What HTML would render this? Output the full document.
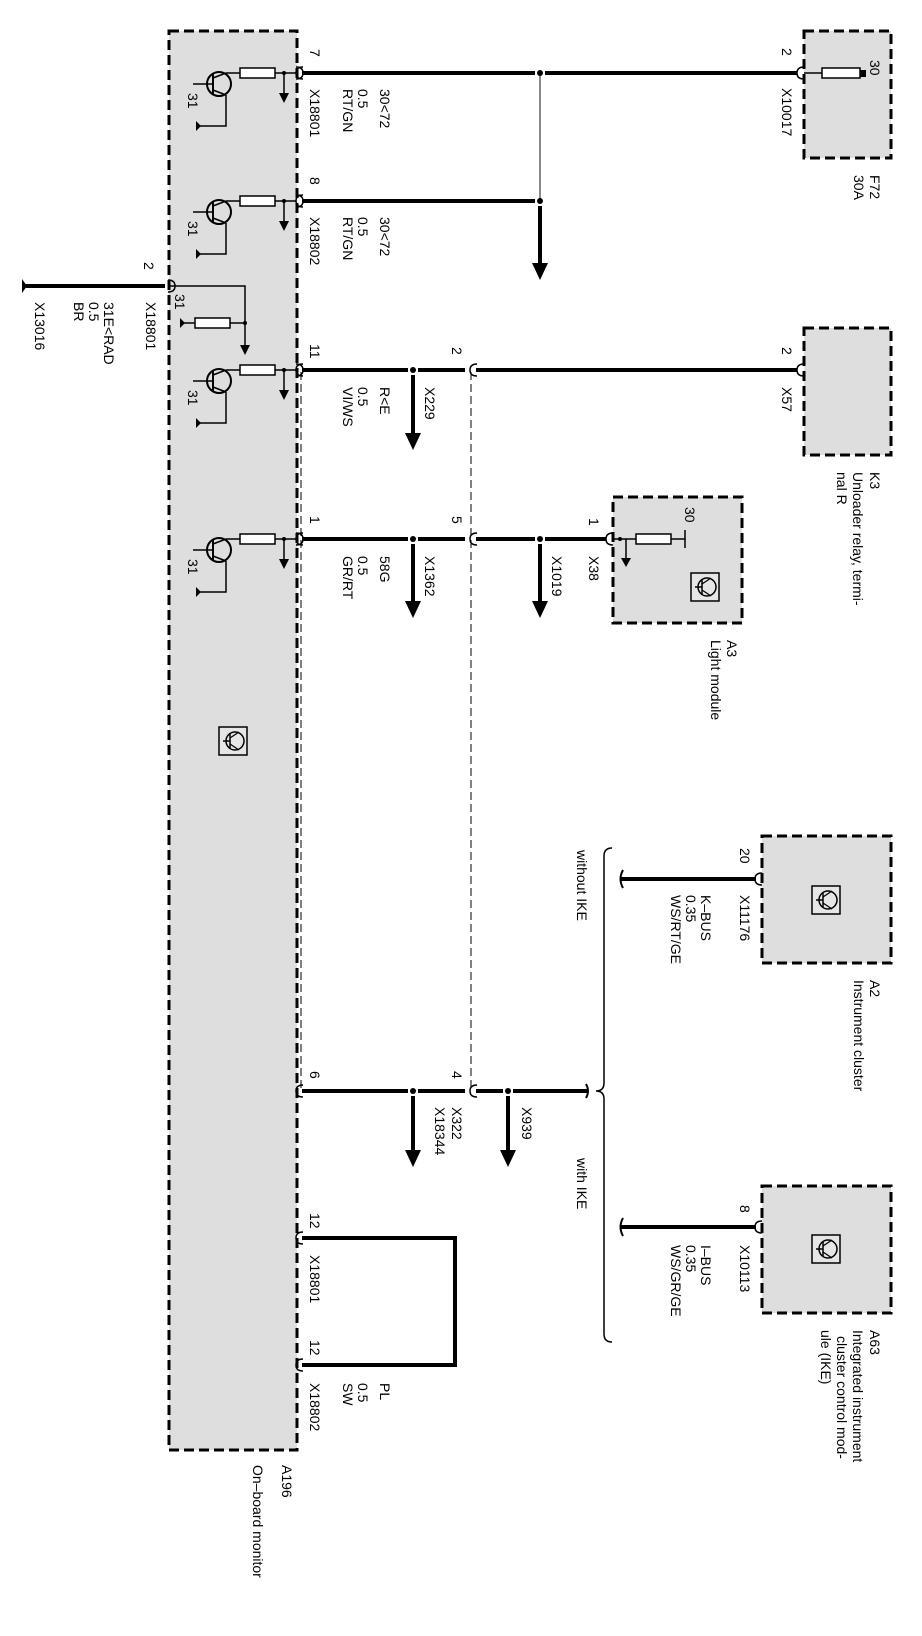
<!DOCTYPE html>
<html><head><meta charset="utf-8"><style>
html,body{margin:0;padding:0;background:#fff}
svg{display:block}
text{font-family:"Liberation Sans",Arial,sans-serif;font-size:14px;fill:#000}
</style></head><body>
<svg width="922" height="1636" viewBox="0 0 922 1636" xmlns="http://www.w3.org/2000/svg">
<defs>
<g id="tr">
  <circle cx="219" cy="11" r="12" fill="none" stroke="#000" stroke-width="2"/>
  <line x1="193" y1="11" x2="213" y2="11" stroke="#000" stroke-width="1.5"/>
  <line x1="213" y1="1" x2="213" y2="21" stroke="#000" stroke-width="2"/>
  <line x1="213" y1="5" x2="226" y2="0" stroke="#000" stroke-width="1.5"/>
  <line x1="213" y1="17" x2="226" y2="22" stroke="#000" stroke-width="1.5"/>
  <path d="M226 0 H240" stroke="#000" stroke-width="1.5"/>
  <rect x="240" y="-5" width="35" height="10" fill="#fff" stroke="#000" stroke-width="1.5"/>
  <path d="M275 0 H296" stroke="#000" stroke-width="1.5"/>
  <circle cx="284" cy="0" r="2" fill="#000"/>
  <path d="M284 0 V22" stroke="#000" stroke-width="1.5"/>
  <path d="M279 20 L289 20 L284 30 Z" fill="#000"/>
  <path d="M226 22 V53 H199" fill="none" stroke="#000" stroke-width="1.5"/>
  <path d="M196 48 L196 58 L201 53 Z" fill="#000"/>
  <text transform="translate(188,20) rotate(90)">31</text>
  <path d="M296 -6 Q303 -6 303 0 Q303 6 296 6" fill="none" stroke="#000" stroke-width="1.5"/>
</g>
<g id="ic">
  <rect x="-14" y="-14" width="28" height="28" fill="#e6e6e6" stroke="#000" stroke-width="1.5"/>
  <circle cx="2" cy="0" r="9" fill="none" stroke="#000" stroke-width="1.5"/>
  <line x1="-10" y1="0" x2="-3" y2="0" stroke="#000" stroke-width="1.5"/>
  <line x1="-3" y1="-7" x2="-3" y2="7" stroke="#000" stroke-width="1.5"/>
  <line x1="-3" y1="-3" x2="6" y2="-9" stroke="#000" stroke-width="1.2"/>
  <line x1="-3" y1="3" x2="6" y2="9" stroke="#000" stroke-width="1.2"/>
</g>
<g id="conn">
  <path d="M0 -6 Q-7 -6 -7 0 Q-7 6 0 6" fill="none" stroke="#000" stroke-width="1.5"/>
</g>
</defs>

<rect x="169" y="31" width="128" height="1419" fill="#dedede" stroke="#000" stroke-width="3" stroke-dasharray="10,5"/>
<path d="M301 372 V1089" stroke="#000" stroke-width="1" stroke-dasharray="8,4"/>
<path d="M471 372 V1089" stroke="#000" stroke-width="1" stroke-dasharray="8,4"/>

<rect x="804" y="31" width="87" height="127" fill="#dedede" stroke="#000" stroke-width="3" stroke-dasharray="10,5"/>
<rect x="804" y="328" width="87" height="127" fill="#dedede" stroke="#000" stroke-width="3" stroke-dasharray="10,5"/>
<rect x="613" y="497" width="129" height="126" fill="#dedede" stroke="#000" stroke-width="3" stroke-dasharray="10,5"/>
<rect x="762" y="836" width="129" height="127" fill="#dedede" stroke="#000" stroke-width="3" stroke-dasharray="10,5"/>
<rect x="762" y="1186" width="129" height="127" fill="#dedede" stroke="#000" stroke-width="3" stroke-dasharray="10,5"/>

<use href="#tr" transform="translate(0,73)"/>
<use href="#tr" transform="translate(0,201)"/>
<use href="#tr" transform="translate(0,370)"/>
<use href="#tr" transform="translate(0,539)"/>

<path d="M170 286 H245 V345" fill="none" stroke="#000" stroke-width="1.5"/>
<path d="M240 345 L250 345 L245 355 Z" fill="#000"/>
<path d="M184 323 H245" stroke="#000" stroke-width="1.5"/>
<rect x="195" y="318" width="35" height="10" fill="#fff" stroke="#000" stroke-width="1.5"/>
<path d="M180 318 L180 328 L185 323 Z" fill="#000"/>
<circle cx="245" cy="323" r="2" fill="#000"/>
<text transform="translate(175,294) rotate(90)">31</text>
<path d="M165 286 H26" stroke="#000" stroke-width="4"/>
<path d="M22 279 L22 293 L27 286 Z" fill="#000"/>
<use href="#conn" transform="translate(168,286) scale(-1,1)"/>

<use href="#ic" transform="translate(233,741)"/>

<path d="M302 73 H535 M545 73 H797" stroke="#000" stroke-width="4"/>
<circle cx="540" cy="73" r="3" fill="#000"/>
<path d="M540 76 V201" stroke="#888" stroke-width="2"/>
<use href="#conn" transform="translate(804,73)"/>
<path d="M804 73 H865" stroke="#000" stroke-width="1.5"/>
<rect x="822" y="68" width="38" height="10" fill="#fff" stroke="#000" stroke-width="1.5"/>
<rect x="860" y="70" width="6" height="7" fill="#000"/>

<path d="M302 201 H535" stroke="#000" stroke-width="4"/>
<circle cx="540" cy="201" r="3" fill="#000"/>
<path d="M540 206 V265" stroke="#000" stroke-width="4"/>
<path d="M532 263 L548 263 L540 280 Z" fill="#000"/>

<path d="M302 370 H408 M418 370 H465 M476 370 H797" stroke="#000" stroke-width="4"/>
<circle cx="413" cy="370" r="3" fill="#000"/>
<path d="M413 375 V435" stroke="#000" stroke-width="4"/>
<path d="M405 433 L421 433 L413 450 Z" fill="#000"/>
<use href="#conn" transform="translate(477,370)"/>
<use href="#conn" transform="translate(804,370)"/>

<path d="M302 539 H408 M418 539 H465 M476 539 H535 M545 539 H606" stroke="#000" stroke-width="4"/>
<circle cx="413" cy="539" r="3" fill="#000"/>
<path d="M413 544 V603" stroke="#000" stroke-width="4"/>
<path d="M405 601 L421 601 L413 618 Z" fill="#000"/>
<circle cx="540" cy="539" r="3" fill="#000"/>
<path d="M540 544 V603" stroke="#000" stroke-width="4"/>
<path d="M532 601 L548 601 L540 618 Z" fill="#000"/>
<use href="#conn" transform="translate(477,539)"/>
<use href="#conn" transform="translate(613,539)"/>
<path d="M613 539 H685" stroke="#000" stroke-width="1.5"/>
<rect x="636" y="534" width="35" height="10" fill="#fff" stroke="#000" stroke-width="1.5"/>
<path d="M685 530 V548" stroke="#000" stroke-width="1.5"/>
<circle cx="620" cy="539" r="2" fill="#000"/>
<path d="M626 539 V560" stroke="#000" stroke-width="1.5"/>
<path d="M621 558 L631 558 L626 567 Z" fill="#000"/>
<use href="#ic" transform="translate(705,587)"/>

<path d="M302 1091 H408 M418 1091 H465 M476 1091 H503 M513 1091 H588" stroke="#000" stroke-width="4"/>
<circle cx="413" cy="1091" r="3" fill="#000"/>
<path d="M413 1096 V1152" stroke="#000" stroke-width="4"/>
<path d="M405 1150 L421 1150 L413 1167 Z" fill="#000"/>
<circle cx="508" cy="1091" r="3" fill="#000"/>
<path d="M508 1096 V1152" stroke="#000" stroke-width="4"/>
<path d="M500 1150 L516 1150 L508 1167 Z" fill="#000"/>
<use href="#conn" transform="translate(477,1091)"/>
<path d="M586 1084 Q590 1091 586 1098" fill="none" stroke="#000" stroke-width="2"/>
<path d="M612 848 Q604 848 604 856 V1083 Q604 1091 596 1091 Q604 1091 604 1099 V1334 Q604 1342 612 1342" fill="none" stroke="#000" stroke-width="1.5"/>

<path d="M620 879 H756" stroke="#000" stroke-width="4"/>
<path d="M623 870 Q618 879 623 888" fill="none" stroke="#000" stroke-width="2"/>
<use href="#conn" transform="translate(762,879)"/>
<path d="M620 1227 H756" stroke="#000" stroke-width="4"/>
<path d="M623 1218 Q618 1227 623 1236" fill="none" stroke="#000" stroke-width="2"/>
<use href="#conn" transform="translate(762,1227)"/>
<use href="#ic" transform="translate(826,900)"/>
<use href="#ic" transform="translate(826,1249)"/>

<path d="M302 1238 H455 V1365 H302" fill="none" stroke="#000" stroke-width="4"/>

<use href="#conn" transform="translate(303,73)"/>
<use href="#conn" transform="translate(303,201)"/>
<use href="#conn" transform="translate(303,370)"/>
<use href="#conn" transform="translate(303,539)"/>
<use href="#conn" transform="translate(303,1091)"/>
<use href="#conn" transform="translate(303,1238)"/>
<use href="#conn" transform="translate(303,1365)"/>

<g>
<text transform="translate(310,49) rotate(90)">7</text>
<text transform="translate(310,89) rotate(90)">X18801</text>
<text transform="translate(380,89) rotate(90)">30&lt;72</text>
<text transform="translate(358,89) rotate(90)">0.5</text>
<text transform="translate(343,89) rotate(90)">RT/GN</text>

<text transform="translate(310,177) rotate(90)">8</text>
<text transform="translate(310,217) rotate(90)">X18802</text>
<text transform="translate(380,217) rotate(90)">30&lt;72</text>
<text transform="translate(358,217) rotate(90)">0.5</text>
<text transform="translate(343,217) rotate(90)">RT/GN</text>

<text transform="translate(144,262) rotate(90)">2</text>
<text transform="translate(146,302) rotate(90)">X18801</text>
<text transform="translate(104,302) rotate(90)">31E&lt;RAD</text>
<text transform="translate(89,302) rotate(90)">0.5</text>
<text transform="translate(74,302) rotate(90)">BR</text>
<text transform="translate(35,302) rotate(90)">X13016</text>

<text transform="translate(310,344) rotate(90)">11</text>
<text transform="translate(380,387) rotate(90)">R&lt;E</text>
<text transform="translate(358,387) rotate(90)">0.5</text>
<text transform="translate(343,387) rotate(90)">VI/WS</text>
<text transform="translate(425,387) rotate(90)">X229</text>
<text transform="translate(452,347) rotate(90)">2</text>

<text transform="translate(310,516) rotate(90)">1</text>
<text transform="translate(380,556) rotate(90)">58G</text>
<text transform="translate(358,556) rotate(90)">0.5</text>
<text transform="translate(343,556) rotate(90)">GR/RT</text>
<text transform="translate(425,556) rotate(90)">X1362</text>
<text transform="translate(452,516) rotate(90)">5</text>
<text transform="translate(552,556) rotate(90)">X1019</text>
<text transform="translate(589,518) rotate(90)">1</text>
<text transform="translate(589,556) rotate(90)">X38</text>
<text transform="translate(685,507) rotate(90)">30</text>

<text transform="translate(782,48) rotate(90)">2</text>
<text transform="translate(782,88) rotate(90)">X10017</text>
<text transform="translate(870,60) rotate(90)">30</text>
<text transform="translate(870,175) rotate(90)">F72</text>
<text transform="translate(854,175) rotate(90)">30A</text>

<text transform="translate(782,347) rotate(90)">2</text>
<text transform="translate(782,387) rotate(90)">X57</text>
<text transform="translate(870,472) rotate(90)">K3</text>
<text transform="translate(853,472) rotate(90)">Unloader relay, termi-</text>
<text transform="translate(837,472) rotate(90)">nal R</text>

<text transform="translate(727,640) rotate(90)">A3</text>
<text transform="translate(711,640) rotate(90)">Light module</text>

<text transform="translate(577,850) rotate(90)">without IKE</text>
<text transform="translate(577,1158) rotate(90)">with IKE</text>

<text transform="translate(740,848) rotate(90)">20</text>
<text transform="translate(740,895) rotate(90)">X11176</text>
<text transform="translate(701,895) rotate(90)">K–BUS</text>
<text transform="translate(686,895) rotate(90)">0.35</text>
<text transform="translate(671,895) rotate(90)">WS/RT/GE</text>
<text transform="translate(870,980) rotate(90)">A2</text>
<text transform="translate(854,980) rotate(90)">Instrument cluster</text>

<text transform="translate(310,1071) rotate(90)">6</text>
<text transform="translate(452,1071) rotate(90)">4</text>
<text transform="translate(452,1107) rotate(90)">X322</text>
<text transform="translate(435,1107) rotate(90)">X18344</text>
<text transform="translate(522,1107) rotate(90)">X939</text>

<text transform="translate(740,1205) rotate(90)">8</text>
<text transform="translate(740,1245) rotate(90)">X10113</text>
<text transform="translate(701,1245) rotate(90)">I–BUS</text>
<text transform="translate(686,1245) rotate(90)">0.35</text>
<text transform="translate(671,1245) rotate(90)">WS/GR/GE</text>
<text transform="translate(870,1330) rotate(90)">A63</text>
<text transform="translate(853,1330) rotate(90)">Integrated instrument</text>
<text transform="translate(837,1336) rotate(90)">cluster control mod-</text>
<text transform="translate(821,1330) rotate(90)">ule (IKE)</text>

<text transform="translate(310,1213) rotate(90)">12</text>
<text transform="translate(310,1255) rotate(90)">X18801</text>
<text transform="translate(310,1340) rotate(90)">12</text>
<text transform="translate(310,1383) rotate(90)">X18802</text>
<text transform="translate(380,1383) rotate(90)">PL</text>
<text transform="translate(358,1383) rotate(90)">0.5</text>
<text transform="translate(343,1383) rotate(90)">SW</text>

<text transform="translate(282,1465) rotate(90)">A196</text>
<text transform="translate(253,1465) rotate(90)">On–board monitor</text>
</g>
</svg>
</body></html>
